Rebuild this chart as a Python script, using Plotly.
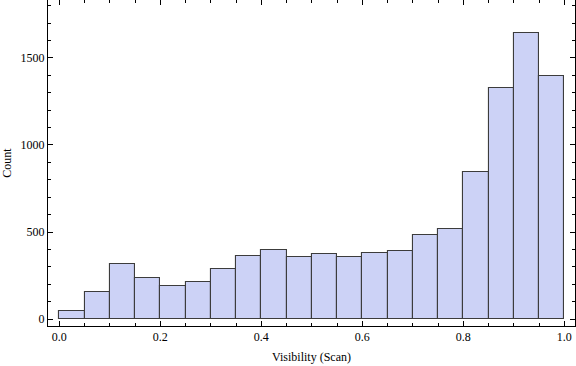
import plotly.graph_objects as go

bin_starts = [0.00, 0.05, 0.10, 0.15, 0.20, 0.25, 0.30, 0.35, 0.40, 0.45,
              0.50, 0.55, 0.60, 0.65, 0.70, 0.75, 0.80, 0.85, 0.90, 0.95]
bin_width = 0.05
counts = [45, 153, 314, 234, 188, 211, 286, 360, 395, 355,
          372, 355, 378, 389, 481, 515, 843, 1326, 1642, 1395]

x_title = "Visibility (Scan)"
y_title = "Count"

centers = [s + bin_width / 2 for s in bin_starts]

fig = go.Figure(go.Bar(
    x=centers, y=counts, width=[bin_width] * len(counts),
    marker=dict(color="rgb(204,210,246)",
                line=dict(color="rgb(60,60,60)", width=1.1)),
    hoverinfo="x+y",
))

font = dict(family="Liberation Serif, Times New Roman, serif", size=12, color="black")

fig.update_layout(
    width=576, height=366,
    margin=dict(l=48, r=1, t=0, b=40, pad=0),
    paper_bgcolor="white", plot_bgcolor="white",
    font=font, showlegend=False, bargap=0,
)
fig.update_xaxes(
    range=[-0.0224, 1.0212], showgrid=False, zeroline=False,
    showline=True, linecolor="black", linewidth=1, mirror="ticks",
    ticks="inside", ticklen=5, tickwidth=1, tickcolor="black",
    dtick=0.2, tick0=0, tickformat=".1f",
    minor=dict(ticks="inside", ticklen=3, dtick=0.05, tick0=0, tickcolor="black", showgrid=False),
    title=dict(text=x_title, font=font, standoff=9),
)
fig.update_yaxes(
    range=[-40, 1833], showgrid=False, zeroline=False,
    showline=True, linecolor="black", linewidth=1, mirror="ticks",
    ticks="inside", ticklen=5, tickwidth=1, tickcolor="black",
    dtick=500, tick0=0,
    minor=dict(ticks="inside", ticklen=3, dtick=100, tick0=0, tickcolor="black", showgrid=False),
    title=dict(text=y_title, font=font, standoff=6),
)

fig.write_html("out.html", config={"displayModeBar": False},
               post_script="document.body.style.margin='0';document.body.style.padding='0';")
